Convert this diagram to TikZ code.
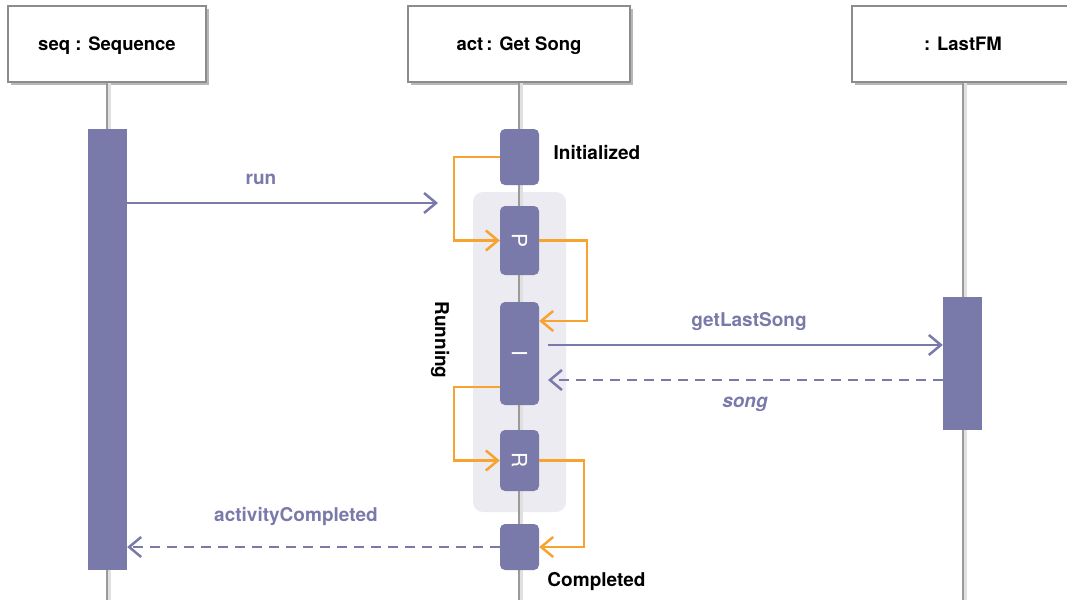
\documentclass[tikz,border=0pt]{standalone}
\usepackage{fontspec}
\setmainfont{TeX Gyre Heros}
\usetikzlibrary{arrows.meta,shadows}
\definecolor{purp}{HTML}{7A7AAA}
\definecolor{orng}{HTML}{F7A32F}
\definecolor{runbg}{HTML}{ECEBF2}
\definecolor{lifegray}{HTML}{9A9A9A}
\definecolor{boxgray}{HTML}{8C8C8C}
\begin{document}
\begin{tikzpicture}[x=1pt,y=-1pt,
  objbox/.style={draw=boxgray, line width=1.2pt, fill=white, minimum height=76pt, inner sep=0pt,
    text height=13.5pt, text depth=0pt,
    drop shadow={shadow xshift=2.5pt,shadow yshift=-3pt,opacity=0.4,fill=black!70},
    font=\fontsize{18.5}{21}\selectfont\bfseries},
  life/.style={draw=lifegray, line width=2.5pt},
  lifeshadow/.style={draw=black!12, line width=2.5pt},
  actbar/.style={fill=purp, draw=none, minimum width=39pt, inner sep=0pt},
  state/.style={fill=purp, draw=none, rounded corners=5pt, minimum width=39pt, inner sep=0pt},
  stletter/.style={rotate=-90, text=white, font=\fontsize{21}{23}\selectfont, inner sep=0pt},
  msg/.style={draw=purp, line width=2.5pt, -{Straight Barb[length=12pt,width=20pt]}},
  reply/.style={msg, dash pattern=on 10pt off 7pt},
  trans/.style={draw=orng, line width=2.5pt, -{Straight Barb[length=12pt,width=20pt]}},
  lbl/.style={text=purp, font=\fontsize{19}{22}\selectfont\bfseries, inner sep=0pt},
  stlbl/.style={text=black, font=\fontsize{19}{22}\selectfont\bfseries, inner sep=0pt}
]
\useasboundingbox (0,0) rectangle (1067,600);
% running background
\node[fill=runbg, rounded corners=10pt, minimum width=93pt, minimum height=320pt, inner sep=0pt] (runbox) at (519.5,352) {};
% object boxes
\node[objbox, minimum width=198pt] (seq) at (107,44) {seq : Sequence};
\node[objbox, minimum width=222pt] (act) at (519,44) {act\,: Get Song};
\node[objbox, minimum width=222pt] (fm) at (963,44) {: LastFM};
% lifelines
\coordinate (seqend) at (107,600);
\coordinate (actend) at (519,600);
\coordinate (fmend) at (963,600);
\draw[lifeshadow] ([xshift=2.5pt]seq.south) -- ([xshift=2.5pt]seqend);
\draw[lifeshadow] ([xshift=2.5pt]act.south) -- ([xshift=2.5pt]actend);
\draw[lifeshadow] ([xshift=2.5pt]fm.south) -- ([xshift=2.5pt]fmend);
\draw[life] (seq.south) -- (seqend);
\draw[life] (act.south) -- (actend);
\draw[life] (fm.south) -- (fmend);
% activation bars
\node[actbar, minimum height=441pt] (seqbar) at (107.5,349.5) {};
\node[actbar, minimum height=133pt] (fmbar) at (962.5,363.5) {};
% states
\node[state, minimum height=56pt] (init) at (519.5,157) {};
\node[state, minimum height=69pt] (P) at (519.5,240.5) {};
\node[stletter] (Plbl) at (P.center) {P};
\node[state, minimum height=103pt] (I) at (519.5,353.5) {};
\node[stletter] (Ilbl) at (I.center) {I};
\node[state, minimum height=61pt] (R) at (519.5,460.5) {};
\node[stletter] (Rlbl) at (R.center) {R};
\node[state, minimum height=46pt] (done) at (519.5,547) {};
% state labels
\node[stlbl] (initlbl) at (597,153) {Initialized};
\node[stlbl] (donelbl) at (596.5,582) {Completed};
\node[stlbl, rotate=-90] (runlbl) at (440,340) {Running};
% transitions
\draw[trans] (init.west) -- ++(-46,0) |- (P.west);
\draw[trans] (P.east) -- ++(48,0) |- ([yshift=32.5pt]I.east);
\draw[trans] ([yshift=-33.5pt]I.west) -- ++(-46,0) |- (R.west);
\draw[trans] (R.east) -- ++(45,0) |- (done.east);
% messages
\coordinate (runend) at (438,203);
\draw[msg] (seqbar.east |- runend) -- (runend);
\node[lbl] (runl) at (261,179) {run};
\coordinate (getstart) at (548,345);
\draw[msg] (getstart) -- (fmbar.west |- getstart);
\node[lbl] (getl) at (749,322) {getLastSong};
\coordinate (songend) at (548,380);
\draw[reply] (fmbar.west |- songend) -- (songend);
\node[lbl, font=\fontsize{19}{22}\selectfont\bfseries\itshape] (songl) at (745,404) {song};
\draw[reply] (done.west) -- (seqbar.east |- done.west);
\node[lbl] (acl) at (296,516) {activityCompleted};
\end{tikzpicture}
\end{document}
